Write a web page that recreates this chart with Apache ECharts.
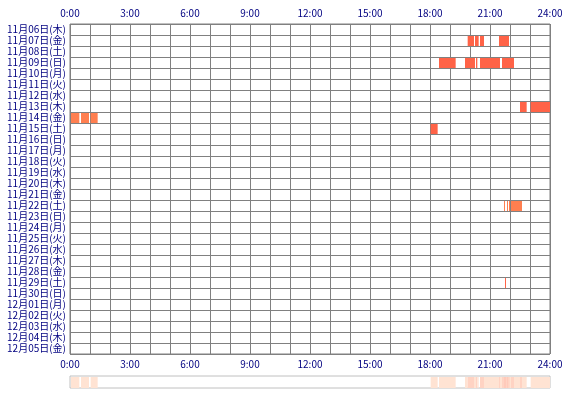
<!DOCTYPE html>
<html>
<head>
<meta charset="utf-8">
<script src="https://cdn.jsdelivr.net/npm/echarts@6/dist/echarts.min.js"></script>
<style>
html,body{margin:0;padding:0;background:#fff;}
#chart{width:570px;height:400px;}
</style>
</head>
<body>
<div id="chart"></div>
<script>
// Row categories (dates)
const days = [
  '11月06日(木)','11月07日(金)','11月08日(土)','11月09日(日)','11月10日(月)',
  '11月11日(火)','11月12日(水)','11月13日(木)','11月14日(金)','11月15日(土)',
  '11月16日(日)','11月17日(月)','11月18日(火)','11月19日(水)','11月20日(木)',
  '11月21日(金)','11月22日(土)','11月23日(日)','11月24日(月)','11月25日(火)',
  '11月26日(水)','11月27日(木)','11月28日(金)','11月29日(土)','11月30日(日)',
  '12月01日(月)','12月02日(火)','12月03日(水)','12月04日(木)','12月05日(金)'
];
// Hour tick labels (every 3 hours)
const hourLabels = ['0:00','3:00','6:00','9:00','12:00','15:00','18:00','21:00','24:00'];
// Activity sessions: day index, start, end
const sessionDay   = [1,1,1,1, 3,3,3,3,3, 7,7, 8,8,8, 9, 16,16,16,16, 23];
const sessionStart = ['19:53','20:15','20:30','21:27', '18:27','19:45','20:18','20:30','21:36', '22:30','23:02', '0:03','0:33','1:02', '18:02', '21:42','21:51','21:57','22:03', '21:45'];
const sessionEnd   = ['20:12','20:26','20:42','21:57', '19:17','20:15','20:22','21:30','22:12', '22:50','24:00', '0:28','0:57','1:23', '18:23', '21:44','21:53','21:59','22:36', '21:47'];
const sessionKind  = [1,1,1,1, 1,1,1,1,1, 1,1, 2,2,2, 1, 2,2,2,2, 1];

const toH = s => { const p = s.split(':'); return +p[0] + (+p[1]) / 60; };
const kindColor = {1: '#FF6347', 2: '#FF7F50'};

const mainData = sessionDay.map((d, i) => [toH(sessionStart[i]), toH(sessionEnd[i]), d, sessionKind[i]]);

// Summary: overlap count over all days
const bounds = new Set([0, 24]);
mainData.forEach(r => { bounds.add(r[0]); bounds.add(r[1]); });
const bs = Array.from(bounds).sort((a, b) => a - b);
const sumData = [];
for (let i = 0; i < bs.length - 1; i++) {
  const a = bs[i], b = bs[i + 1], m = (a + b) / 2;
  const c = mainData.filter(r => r[0] <= m && r[1] >= m).length;
  if (c > 0) sumData.push([a, b, c]);
}
const sumColors = ['#FFFFFF', '#FFE3D3', '#FFD3C3', '#FFC6B6', '#FFB8A8'];

const chart = echarts.init(document.getElementById('chart'), null, {renderer: 'canvas'});
const labelStyle = {color: '#000080', fontSize: 10, fontFamily: '"Noto Sans CJK JP", "DejaVu Sans", sans-serif'};
const hourFmt = v => (v % 3 === 0 ? hourLabels[v / 3] : '');

chart.setOption({
  animation: false,
  backgroundColor: '#fff',
  grid: [
    {left: 70, top: 24, width: 480, height: 330, show: true, borderColor: '#808080', borderWidth: 1, backgroundColor: '#fff'},
    {left: 70, top: 376, width: 480, height: 12, show: true, borderColor: '#C0C0C0', borderWidth: 1, backgroundColor: '#fff'}
  ],
  xAxis: [
    {gridIndex: 0, type: 'value', position: 'top', min: 0, max: 24, interval: 1,
     axisLine: {show: false}, axisTick: {show: false},
     axisLabel: Object.assign({formatter: hourFmt, margin: 6, interval: 0}, labelStyle),
     splitLine: {show: true, lineStyle: {color: '#808080', width: 1}}},
    {gridIndex: 0, type: 'value', position: 'bottom', min: 0, max: 24, interval: 1,
     axisLine: {show: false}, axisTick: {show: false},
     axisLabel: Object.assign({formatter: hourFmt, margin: 5}, labelStyle),
     splitLine: {show: false}},
    {gridIndex: 1, type: 'value', min: 0, max: 24, show: false}
  ],
  yAxis: [
    {gridIndex: 0, type: 'category', data: days, inverse: true,
     axisLine: {show: false}, axisTick: {show: false},
     axisLabel: Object.assign({interval: 0, margin: 4}, labelStyle),
     splitLine: {show: true, interval: 0, lineStyle: {color: '#808080', width: 1}}},
    {gridIndex: 1, type: 'value', min: 0, max: 1, show: false}
  ],
  series: [
    {type: 'custom', xAxisIndex: 0, yAxisIndex: 0, data: mainData,
     encode: {x: [0, 1], y: 2},
     renderItem: (params, api) => {
       const p0 = api.coord([api.value(0), api.value(2)]);
       const p1 = api.coord([api.value(1), api.value(2)]);
       const h = api.size([0, 1])[1];
       const rect = echarts.graphic.clipRectByRect(
         {x: p0[0], y: p0[1] - h / 2 + 1, width: Math.max(p1[0] - p0[0], 1), height: h - 1},
         {x: params.coordSys.x, y: params.coordSys.y, width: params.coordSys.width, height: params.coordSys.height});
       return rect && {type: 'rect', shape: rect, style: {fill: kindColor[api.value(3)]}};
     }},
    {type: 'custom', xAxisIndex: 2, yAxisIndex: 1, data: sumData,
     encode: {x: [0, 1]},
     renderItem: (params, api) => {
       const p0 = api.coord([api.value(0), 1]);
       const p1 = api.coord([api.value(1), 0]);
       const c = Math.min(api.value(2), 4);
       return {type: 'rect', shape: {x: p0[0], y: p0[1] + 1, width: Math.max(p1[0] - p0[0], 1), height: p1[1] - p0[1] - 1},
               style: {fill: sumColors[c]}};
     }}
  ]
});
</script>
</body>
</html>
